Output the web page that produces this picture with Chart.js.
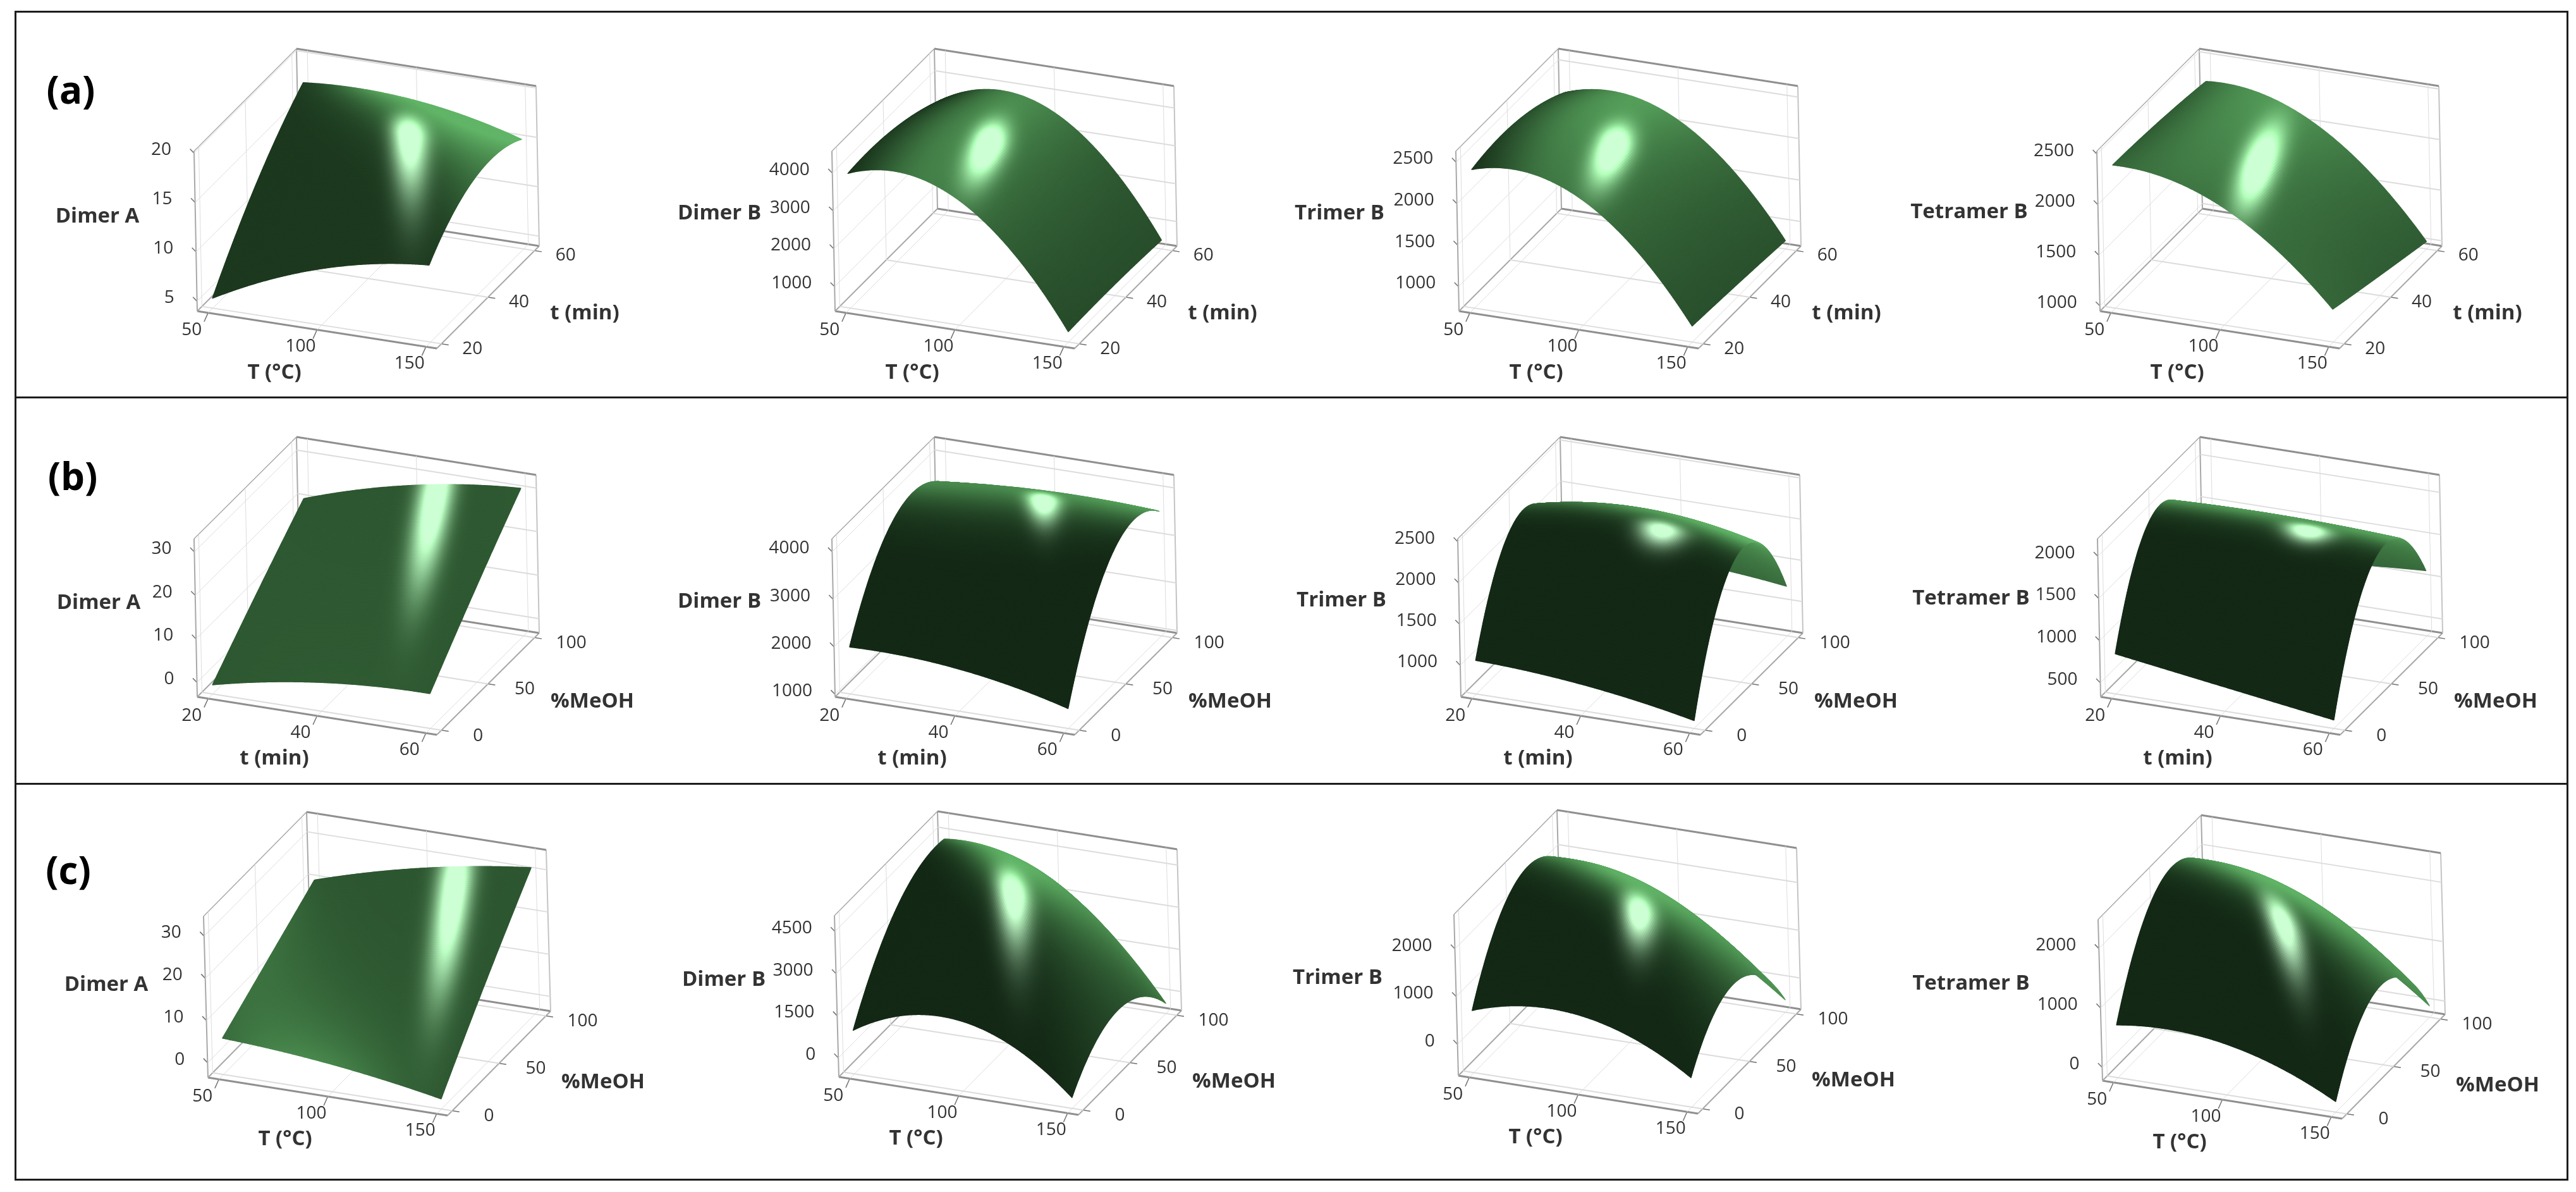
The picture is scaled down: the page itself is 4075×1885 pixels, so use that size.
<!DOCTYPE html>
<html>
<head>
<meta charset="utf-8">
<title>Response surfaces</title>
<script src="https://cdn.jsdelivr.net/npm/chart.js@4/dist/chart.umd.min.js"></script>
<style>
  html, body { margin: 0; background: #fff; }
  #page { position: relative; width: 4075px; height: 1885px; overflow: hidden; font-family: "Open Sans", sans-serif; }
  #page canvas { position: absolute; }
  .frame { position: absolute; border: 3px solid #1c1c1c; box-sizing: border-box; }
  .letter { position: absolute; font-weight: 700; font-size: 60px; color: #000; transform: translate(-50%, -50%); }
</style>
</head>
<body>
<div id="page"></div>
<script>
// factor ticks
const tempTicks = [50, 100, 150];
const timeTicks = [20, 40, 60];
const meohTicks = [0, 50, 100];

// response ticks
const dimerATicksA = [5, 10, 15, 20];
const dimerBTicksA = [1000, 2000, 3000, 4000];
const trimerBTicksA = [1000, 1500, 2000, 2500];
const tetramerBTicksA = [1000, 1500, 2000, 2500];
const dimerATicksB = [0, 10, 20, 30];
const dimerBTicksB = [1000, 2000, 3000, 4000];
const trimerBTicksB = [1000, 1500, 2000, 2500];
const tetramerBTicksB = [500, 1000, 1500, 2000];
const dimerATicksC = [0, 10, 20, 30];
const dimerBTicksC = [0, 1500, 3000, 4500];
const trimerBTicksC = [0, 1000, 2000];
const tetramerBTicksC = [0, 1000, 2000];

// response axis limits
const dimerARangeA = [4, 20.2];
const dimerBRangeA = [354, 4579];
const trimerBRangeA = [705, 2633];
const tetramerBRangeA = [949, 2529];
const dimerARangeB = [-3.3, 33];
const dimerBRangeB = [947, 4273];
const trimerBRangeB = [618, 2536];
const tetramerBRangeB = [334, 2207];
const dimerARangeC = [-3.5, 34.7];
const dimerBRangeC = [-675, 5064];
const trimerBRangeC = [-655, 2723];
const tetramerBRangeC = [-223, 2491];

// surface values read at the low / mid / high factor settings, rows = back axis
const dimerAValuesA = [[5.0, 9.7, 11.8], [12.2, 17.4, 15.9], [17.4, 17.4, 15.1]];
const dimerBValuesA = [[3911, 3688, 629], [3869, 3650, 650], [3396, 3578, 586]];
const trimerBValuesA = [[2375, 2226, 898], [2409, 2199, 857], [2182, 2084, 805]];
const tetramerBValuesA = [[2362, 2118, 1274], [2333, 2110, 1145], [2268, 2014, 1023]];
const dimerAValuesB = [[-1.2, 3.3, 4.7], [9.8, 14.6, 18.1], [20.3, 27.3, 30.6]];
const dimerBValuesB = [[1935, 1835, 1366], [3674, 3641, 3664], [3458, 3621, 3568]];
const trimerBValuesB = [[1025, 933, 714], [2248, 2402, 2185], [1308, 1328, 1220]];
const tetramerBValuesB = [[810, 621, 435], [2020, 1982, 1864], [821, 1001, 1106]];
const dimerAValuesC = [[5.1, 3.0, -1.1], [12.6, 11.0, 15.6], [20.1, 27.0, 31.2]];
const dimerBValuesC = [[875, 1816, -290], [3629, 4720, 1133], [4306, 3411, -313]];
const trimerBValuesC = [[646, 899, -37], [2362, 2487, 990], [1757, 1000, -395]];
const tetramerBValuesC = [[664, 635, -44], [2268, 2247, 1112], [1718, 1120, -30]];

const rowTops = [17, 628, 1239];
const rowBottoms = [628, 1239, 1865];
const tempAxis = { name: 'T (°C)', ticks: tempTicks, range: [45, 155] };
const timeAxis = { name: 't (min)', ticks: timeTicks, range: [18, 62] };
const meohAxis = { name: '%MeOH', ticks: meohTicks, range: [-5, 105] };

// glint = highlight on the surface: u, v, width, reach back, reach front, lean
// lift = base brightness of the green
const panels = [
  { row: 0, name: 'Dimer A', xa: tempAxis, ya: timeAxis, zt: dimerATicksA, zr: dimerARangeA, vals: dimerAValuesA, o: [312, 492], lab: [-158, -149], glint: [.65, .58, .05, .09, .2, -.43], lift: .12 },
  { row: 0, name: 'Dimer B', xa: tempAxis, ya: timeAxis, zt: dimerBTicksA, zr: dimerBRangeA, vals: dimerBValuesA, o: [1321, 492], lab: [-183, -154], glint: [.44, .5, .042, .12, .2, -.17], lift: 0 },
  { row: 0, name: 'Trimer B', xa: tempAxis, ya: timeAxis, zt: trimerBTicksA, zr: trimerBRangeA, vals: trimerBValuesA, o: [2308, 492], lab: [-189, -154], glint: [.45, .49, .042, .12, .2, -.17], lift: 0 },
  { row: 0, name: 'Tetramer B', xa: tempAxis, ya: timeAxis, zt: tetramerBTicksA, zr: tetramerBRangeA, vals: tetramerBValuesA, o: [3322, 492], lab: [-207, -156], glint: [.49, .43, .042, .22, .22, -.2], lift: 0 },
  { row: 1, name: 'Dimer A', xa: timeAxis, ya: meohAxis, zt: dimerATicksB, zr: dimerARangeB, vals: dimerAValuesB, o: [312, 1102], lab: [-156, -148], glint: [.62, .9, .05, .2, .27, -.245], lift: .33 },
  { row: 1, name: 'Dimer B', xa: timeAxis, ya: meohAxis, zt: dimerBTicksB, zr: dimerBRangeB, vals: dimerBValuesB, o: [1321, 1102], lab: [-183, -150], glint: [.557, .76, .045, .07, .11, -.43], lift: 0 },
  { row: 1, name: 'Trimer B', xa: timeAxis, ya: meohAxis, zt: trimerBTicksB, zr: trimerBRangeB, vals: trimerBValuesB, o: [2311, 1102], lab: [-189, -152], glint: [.65, .47, .06, .035, .05, 0], lift: 0 },
  { row: 1, name: 'Tetramer B', xa: timeAxis, ya: meohAxis, zt: tetramerBTicksB, zr: tetramerBRangeB, vals: tetramerBValuesB, o: [3323, 1102], lab: [-205, -155], glint: [.655, .52, .06, .035, .045, 0], lift: 0 },
  { row: 2, name: 'Dimer A', xa: tempAxis, ya: meohAxis, zt: dimerATicksC, zr: dimerARangeC, vals: dimerAValuesC, o: [329, 1704], lab: [-161, -146], glint: [.665, .88, .05, .15, .28, -.26], lift: .33 },
  { row: 2, name: 'Dimer B', xa: tempAxis, ya: meohAxis, zt: dimerBTicksC, zr: dimerBRangeC, vals: dimerBValuesC, o: [1327, 1703], lab: [-182, -153], glint: [.53, .5, .048, .09, .14, -.43], lift: 0 },
  { row: 2, name: 'Trimer B', xa: tempAxis, ya: meohAxis, zt: trimerBTicksC, zr: trimerBRangeC, vals: trimerBValuesC, o: [2307, 1701], lab: [-191, -154], glint: [.59, .42, .045, .07, .09, -.3], lift: 0 },
  { row: 2, name: 'Tetramer B', xa: tempAxis, ya: meohAxis, zt: tetramerBTicksC, zr: tetramerBRangeC, vals: tetramerBValuesC, o: [3326, 1709], lab: [-208, -153], glint: [.59, .42, .05, .07, .1, -.7], lift: 0 },
];

// box vectors per row, pixels on the page
const boxX = [[379, 59], [379, 60], [379, 60]];
const boxY = [[162, -162], [162, -161], [163, -165]];
const boxZ = [[-5, -253], [-5, -250], [-7, -255]];

const CANVAS_W = 1030;
const MESH = 130;
const LIGHT = norm([0.35, 0.5, 0.75]);

function norm(a) {
  const l = Math.hypot(a[0], a[1], a[2]);
  return [a[0] / l, a[1] / l, a[2] / l];
}
const frac = (v, r) => (v - r[0]) / (r[1] - r[0]);

// quadratic through the three read settings
function quad(a, b, c, s) {
  return a * 2 * (s - .5) * (s - 1) + b * 4 * s * (1 - s) + c * 2 * s * (s - .5);
}
function heightAt(p, u, v) {
  const s = (u - .045) / .91, t = (v - .045) / .91;
  const r = p.vals;
  const c0 = quad(r[0][0], r[0][1], r[0][2], s);
  const c1 = quad(r[1][0], r[1][1], r[1][2], s);
  const c2 = quad(r[2][0], r[2][1], r[2][2], s);
  return frac(quad(c0, c1, c2, t), p.zr);
}
function normalAt(p, u, v) {
  const e = .004;
  const wu = (heightAt(p, u + e, v) - heightAt(p, u - e, v)) / (2 * e);
  const wv = (heightAt(p, u, v + e) - heightAt(p, u, v - e)) / (2 * e);
  return norm([-wu, -wv, 1]);
}
const dot = (a, b) => a[0] * b[0] + a[1] * b[1] + a[2] * b[2];

function shade(p, u, v) {
  const n = normalAt(p, u, v);
  const g = p.glint;
  const dv = v - g[1];
  const du = u - g[0] - g[5] * dv;
  const reach = dv > 0 ? g[3] : g[4];
  const sp = Math.min(1, 1.2 * Math.exp(-.5 * (du * du / (g[2] * g[2]) + dv * dv / (reach * reach))));
  const d = Math.max(0, dot(n, LIGHT));
  const df = Math.min(1, Math.pow(d, 3) + p.lift);
  const r = 20 + 78 * df + 175 * sp;
  const gr = 41 + 140 * df + 205 * sp;
  const b = 22 + 82 * df + 180 * sp;
  return `rgb(${Math.min(r, 205) | 0},${Math.min(gr, 255) | 0},${Math.min(b, 212) | 0})`;
}

const surfacePlugin = {
  id: 'surface',
  afterDatasetsDraw(chart, args, opts) {
    const p = opts.panel, proj = opts.project, ctx = chart.ctx;
    const sx = chart.scales.x, sy = chart.scales.y;
    const at = (u, v) => {
      const q = proj(u, v, heightAt(p, u, v));
      return [sx.getPixelForValue(q.x), sy.getPixelForValue(q.y)];
    };
    ctx.save();
    ctx.lineWidth = 1.3;
    ctx.lineJoin = 'round';
    // far rows first so a fold covers what is behind it
    for (let j = MESH - 1; j >= 0; j--) {
      for (let i = 0; i < MESH; i++) {
        const u0 = .045 + .91 * i / MESH, u1 = .045 + .91 * (i + 1) / MESH;
        const v0 = .045 + .91 * j / MESH, v1 = .045 + .91 * (j + 1) / MESH;
        const a = at(u0, v0), b = at(u1, v0), c = at(u1, v1), d = at(u0, v1);
        const col = shade(p, (u0 + u1) / 2, (v0 + v1) / 2);
        ctx.fillStyle = col; ctx.strokeStyle = col;
        ctx.beginPath();
        ctx.moveTo(a[0], a[1]); ctx.lineTo(b[0], b[1]); ctx.lineTo(c[0], c[1]); ctx.lineTo(d[0], d[1]);
        ctx.closePath(); ctx.fill(); ctx.stroke();
      }
    }
    // axis text
    const text = (s, q, dx, dy, font, align) => {
      ctx.font = font;
      ctx.fillStyle = '#333';
      ctx.textAlign = align || 'center';
      ctx.textBaseline = 'middle';
      ctx.fillText(s, sx.getPixelForValue(q.x) + dx, sy.getPixelForValue(q.y) + dy);
    };
    const tickFont = '28px "Open Sans"', labFont = 'bold 33px "Open Sans"';
    const yOff = p.row === 0 ? [49, 8] : [58, 9];
    p.xa.ticks.forEach(t => text(String(t), proj(frac(t, p.xa.range), 0, 0), -26, 27, tickFont));
    p.ya.ticks.forEach(t => text(String(t), proj(1, frac(t, p.ya.range), 0), yOff[0], yOff[1], tickFont));
    p.zt.forEach(t => text(String(t), proj(0, 0, frac(t, p.zr)), -36, -5, tickFont, 'right'));
    text(p.name, proj(0, 0, 0), p.lab[0], p.lab[1], labFont);
    text(p.xa.name, proj(0, 0, 0), 122, 98, labFont);
    text(p.ya.name, proj(0, 0, 0), p.row === 0 ? 613 : 625, p.row === 0 ? 4 : 8, labFont);
    ctx.restore();
  }
};

function seg(proj, a, b, color, width) {
  return {
    data: [proj(a[0], a[1], a[2]), proj(b[0], b[1], b[2])],
    showLine: true, pointRadius: 0, borderColor: color, borderWidth: width, clip: false
  };
}

const page = document.getElementById('page');

const frame = document.createElement('div');
frame.className = 'frame';
frame.style.cssText = 'left:23px;top:17px;width:4040px;height:1850px';
page.appendChild(frame);
rowTops.slice(1).forEach(y => {
  const d = document.createElement('div');
  d.className = 'frame';
  d.style.cssText = `left:23px;top:${y - 1}px;width:4040px;height:3px;border-width:3px 0 0 0`;
  page.appendChild(d);
});
[['(a)', 112, 141], ['(b)', 115, 752], ['(c)', 108, 1375]].forEach(l => {
  const d = document.createElement('div');
  d.className = 'letter';
  d.textContent = l[0];
  d.style.left = l[1] + 'px';
  d.style.top = l[2] + 'px';
  page.appendChild(d);
});

panels.forEach(p => {
  const left = p.o[0] - 300, top = rowTops[p.row] + 4;
  const h = rowBottoms[p.row] - rowTops[p.row] - 8;
  const cv = document.createElement('canvas');
  cv.width = CANVAS_W; cv.height = h;
  cv.style.left = left + 'px'; cv.style.top = top + 'px';
  cv.style.width = CANVAS_W + 'px'; cv.style.height = h + 'px';
  page.appendChild(cv);

  const ex = boxX[p.row], ey = boxY[p.row], ez = boxZ[p.row];
  const proj = (u, v, w) => ({
    x: p.o[0] - left + u * ex[0] + v * ey[0] + w * ez[0],
    y: p.o[1] - top + u * ex[1] + v * ey[1] + w * ez[1]
  });

  const grid = '#dcdcdc', edge = '#8f8f8f', thin = '#a8a8a8', tick = '#707070';
  const ds = [];
  // walls and floor
  p.xa.ticks.forEach(t => {
    const u = frac(t, p.xa.range);
    ds.push(seg(proj, [u, 0, 0], [u, 1, 0], grid, 1));
    ds.push(seg(proj, [u, 1, 0], [u, 1, 1], grid, 1));
  });
  p.ya.ticks.forEach(t => {
    const v = frac(t, p.ya.range);
    ds.push(seg(proj, [0, v, 0], [1, v, 0], grid, 2));
    ds.push(seg(proj, [0, v, 0], [0, v, 1], grid, 1));
  });
  p.zt.forEach(t => {
    const w = frac(t, p.zr);
    ds.push(seg(proj, [0, 0, w], [0, 1, w], grid, 1));
    ds.push(seg(proj, [0, 1, w], [1, 1, w], grid, 2));
  });
  // box edges
  ds.push(seg(proj, [0, 1, 1], [1, 1, 1], edge, 3));
  ds.push(seg(proj, [0, 0, 1], [0, 1, 1], thin, 1.5));
  ds.push(seg(proj, [0, 0, 0], [0, 0, 1], thin, 2));
  ds.push(seg(proj, [0, 1, 0], [0, 1, 1], thin, 2));
  ds.push(seg(proj, [1, 1, 0], [1, 1, 1], '#c4c4c4', 2));
  ds.push(seg(proj, [0, 1, 0], [1, 1, 0], edge, 3));
  ds.push(seg(proj, [0, 0, 0], [0, 1, 0], thin, 2));
  ds.push(seg(proj, [0, 0, 0], [1, 0, 0], edge, 3));
  ds.push(seg(proj, [1, 0, 0], [1, 1, 0], thin, 2));
  // tick marks
  p.xa.ticks.forEach(t => {
    const u = frac(t, p.xa.range);
    ds.push(seg(proj, [u, 0, 0], [u, -.04, -.03], tick, 1.5));
  });
  p.ya.ticks.forEach(t => {
    const v = frac(t, p.ya.range);
    ds.push(seg(proj, [1, v, 0], [1.03, v, 0], tick, 1.5));
  });
  p.zt.forEach(t => {
    const w = frac(t, p.zr);
    ds.push(seg(proj, [0, 0, w], [-.03, .03, w], tick, 1.5));
  });
  // the read surface values
  const readPts = [];
  p.vals.forEach((r, j) => r.forEach((z, i) => {
    readPts.push(proj(.045 + .455 * i, .045 + .455 * j, frac(z, p.zr)));
  }));
  ds.push({ data: readPts, pointRadius: 0, showLine: false });

  new Chart(cv, {
    type: 'scatter',
    data: { datasets: ds },
    plugins: [surfacePlugin],
    options: {
      responsive: false, animation: false, devicePixelRatio: 1,
      layout: { padding: 0 },
      scales: {
        x: { type: 'linear', display: false, min: 0, max: CANVAS_W },
        y: { type: 'linear', display: false, reverse: true, min: 0, max: h }
      },
      plugins: {
        legend: { display: false }, tooltip: { enabled: false },
        surface: { panel: p, project: proj }
      }
    }
  });
});
</script>
</body>
</html>
